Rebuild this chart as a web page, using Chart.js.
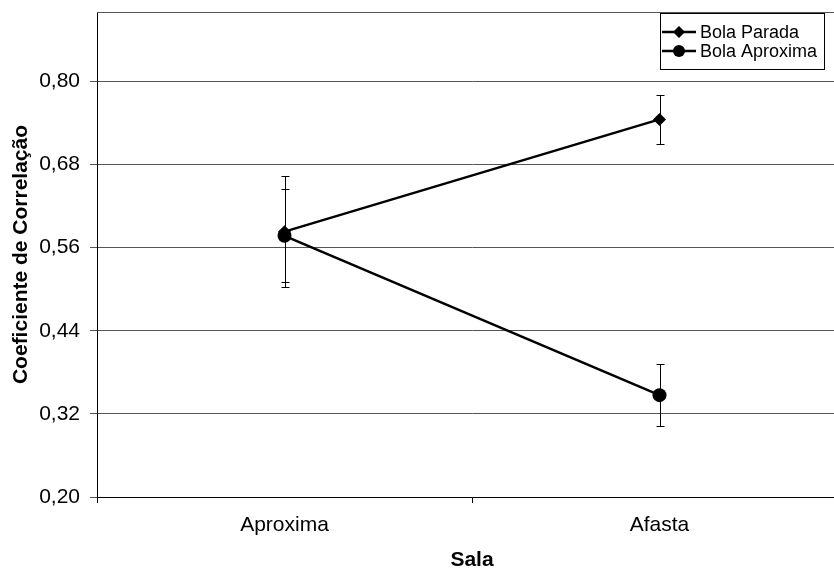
<!DOCTYPE html>
<html>
<head>
<meta charset="utf-8">
<script src="https://cdn.jsdelivr.net/npm/chart.js@4.4.1/dist/chart.umd.min.js"></script>
<style>
  html, body { margin: 0; padding: 0; background: #fff; overflow: hidden; }
  #wrap { position: absolute; left: 0; top: 0; width: 870px; height: 569px; }
</style>
</head>
<body>
<div id="wrap"><canvas id="chart" width="870" height="569"></canvas></div>
<script>
// dados
const salas = ['Aproxima', 'Afasta'];
const bolaParada = [0.583, 0.745];
const bolaParadaErr = [0.080, 0.035];
const bolaAproxima = [0.577, 0.347];
const bolaAproximaErr = [0.067, 0.045];
const yTicks = [0.20, 0.32, 0.44, 0.56, 0.68, 0.80];
const yMin = 0.20;
const yMax = 0.90;

const FONT = "'Liberation Sans', Arial, Helvetica, sans-serif";
const errors = [bolaParadaErr, bolaAproximaErr];

// barras de erro, desenhadas atras dos marcadores
const errorBars = {
  id: 'errorBars',
  beforeDatasetsDraw(chart) {
    const { ctx, scales: { y } } = chart;
    ctx.save();
    ctx.strokeStyle = '#000';
    ctx.lineWidth = 1;
    chart.data.datasets.forEach((ds, i) => {
      const meta = chart.getDatasetMeta(i);
      meta.data.forEach((pt, j) => {
        const v = ds.data[j], e = errors[i][j];
        const x = Math.round(pt.x) + 0.5;
        const top = Math.round(y.getPixelForValue(v + e)) + 0.5;
        const bot = Math.round(y.getPixelForValue(v - e)) + 0.5;
        ctx.beginPath();
        ctx.moveTo(x, top); ctx.lineTo(x, bot);
        ctx.moveTo(x - 4, top); ctx.lineTo(x + 4, top);
        ctx.moveTo(x - 4, bot); ctx.lineTo(x + 4, bot);
        ctx.stroke();
      });
    });
    ctx.restore();
  }
};

// borda superior da area do grafico e legenda com caixa
const frameAndLegend = {
  id: 'frameAndLegend',
  afterDraw(chart) {
    const { ctx, chartArea: a } = chart;
    ctx.save();
    ctx.strokeStyle = '#555';
    ctx.lineWidth = 1;
    ctx.beginPath();
    ctx.moveTo(a.left, Math.round(a.top) + 0.5);
    ctx.lineTo(a.right, Math.round(a.top) + 0.5);
    ctx.stroke();

    const bx = 660.5, by = 13.5, bw = 164, bh = 56;
    ctx.fillStyle = '#fff';
    ctx.fillRect(bx, by, bw, bh);
    ctx.strokeStyle = '#000';
    ctx.strokeRect(bx, by, bw, bh);

    const rows = [
      { label: 'Bola Parada', style: 'diamond', y: 32 },
      { label: 'Bola Aproxima', style: 'circle', y: 51 }
    ];
    rows.forEach(r => {
      ctx.strokeStyle = '#000';
      ctx.lineWidth = 2.5;
      ctx.beginPath();
      ctx.moveTo(662, r.y); ctx.lineTo(696, r.y);
      ctx.stroke();
      ctx.fillStyle = '#000';
      ctx.beginPath();
      if (r.style === 'diamond') {
        ctx.moveTo(679, r.y - 6); ctx.lineTo(685, r.y);
        ctx.lineTo(679, r.y + 6); ctx.lineTo(673, r.y);
        ctx.closePath();
      } else {
        ctx.arc(679, r.y, 6, 0, Math.PI * 2);
      }
      ctx.fill();
      ctx.font = '18px ' + FONT;
      ctx.textBaseline = 'middle';
      ctx.textAlign = 'left';
      ctx.fillText(r.label, 700, r.y + 1);
    });
    ctx.restore();
  }
};

new Chart(document.getElementById('chart').getContext('2d'), {
  type: 'line',
  data: {
    labels: salas,
    datasets: [
      {
        label: 'Bola Parada',
        data: bolaParada,
        borderColor: '#000',
        backgroundColor: '#000',
        borderWidth: 2.5,
        pointStyle: 'rectRot',
        pointRadius: 6.5,
        pointBorderWidth: 0,
        tension: 0,
        order: 2
      },
      {
        label: 'Bola Aproxima',
        data: bolaAproxima,
        borderColor: '#000',
        backgroundColor: '#000',
        borderWidth: 2.5,
        pointStyle: 'circle',
        pointRadius: 7,
        pointBorderWidth: 0,
        tension: 0,
        order: 1
      }
    ]
  },
  options: {
    responsive: false,
    animation: false,
    devicePixelRatio: 1,
    layout: { padding: { top: 12, right: 23, left: 0, bottom: 0 } },
    plugins: { legend: { display: false }, tooltip: { enabled: false } },
    scales: {
      x: {
        type: 'category',
        offset: true,
        grid: { offset: true, drawOnChartArea: false, drawTicks: true, tickLength: 6, color: '#000' },
        border: { color: '#000', width: 1 },
        ticks: { color: '#000', font: { family: FONT, size: 21 }, padding: 10 },
        title: {
          display: true, text: 'Sala', color: '#000',
          font: { family: FONT, size: 21, weight: 'bold', lineHeight: 0.8 },
          padding: 0
        },
        afterFit(s) { s.height = 72; s.paddingLeft = 0; s.paddingRight = 0; }
      },
      y: {
        min: yMin,
        max: yMax,
        afterBuildTicks(s) { s.ticks = yTicks.map(v => ({ value: v })); },
        grid: { color: '#555', tickLength: 7 },
        border: { color: '#000', width: 1 },
        ticks: {
          color: '#000', font: { family: FONT, size: 21 }, padding: 10,
          callback: v => v.toFixed(2).replace('.', ',')
        },
        title: {
          display: true, text: 'Coeficiente de Correlação', color: '#000',
          font: { family: FONT, size: 21, weight: 'bold' },
          padding: { top: 9, bottom: 0 }
        },
        afterFit(s) { s.width = 97; s.paddingTop = 0; s.paddingBottom = 0; }
      }
    }
  },
  plugins: [errorBars, frameAndLegend]
});
</script>
</body>
</html>
